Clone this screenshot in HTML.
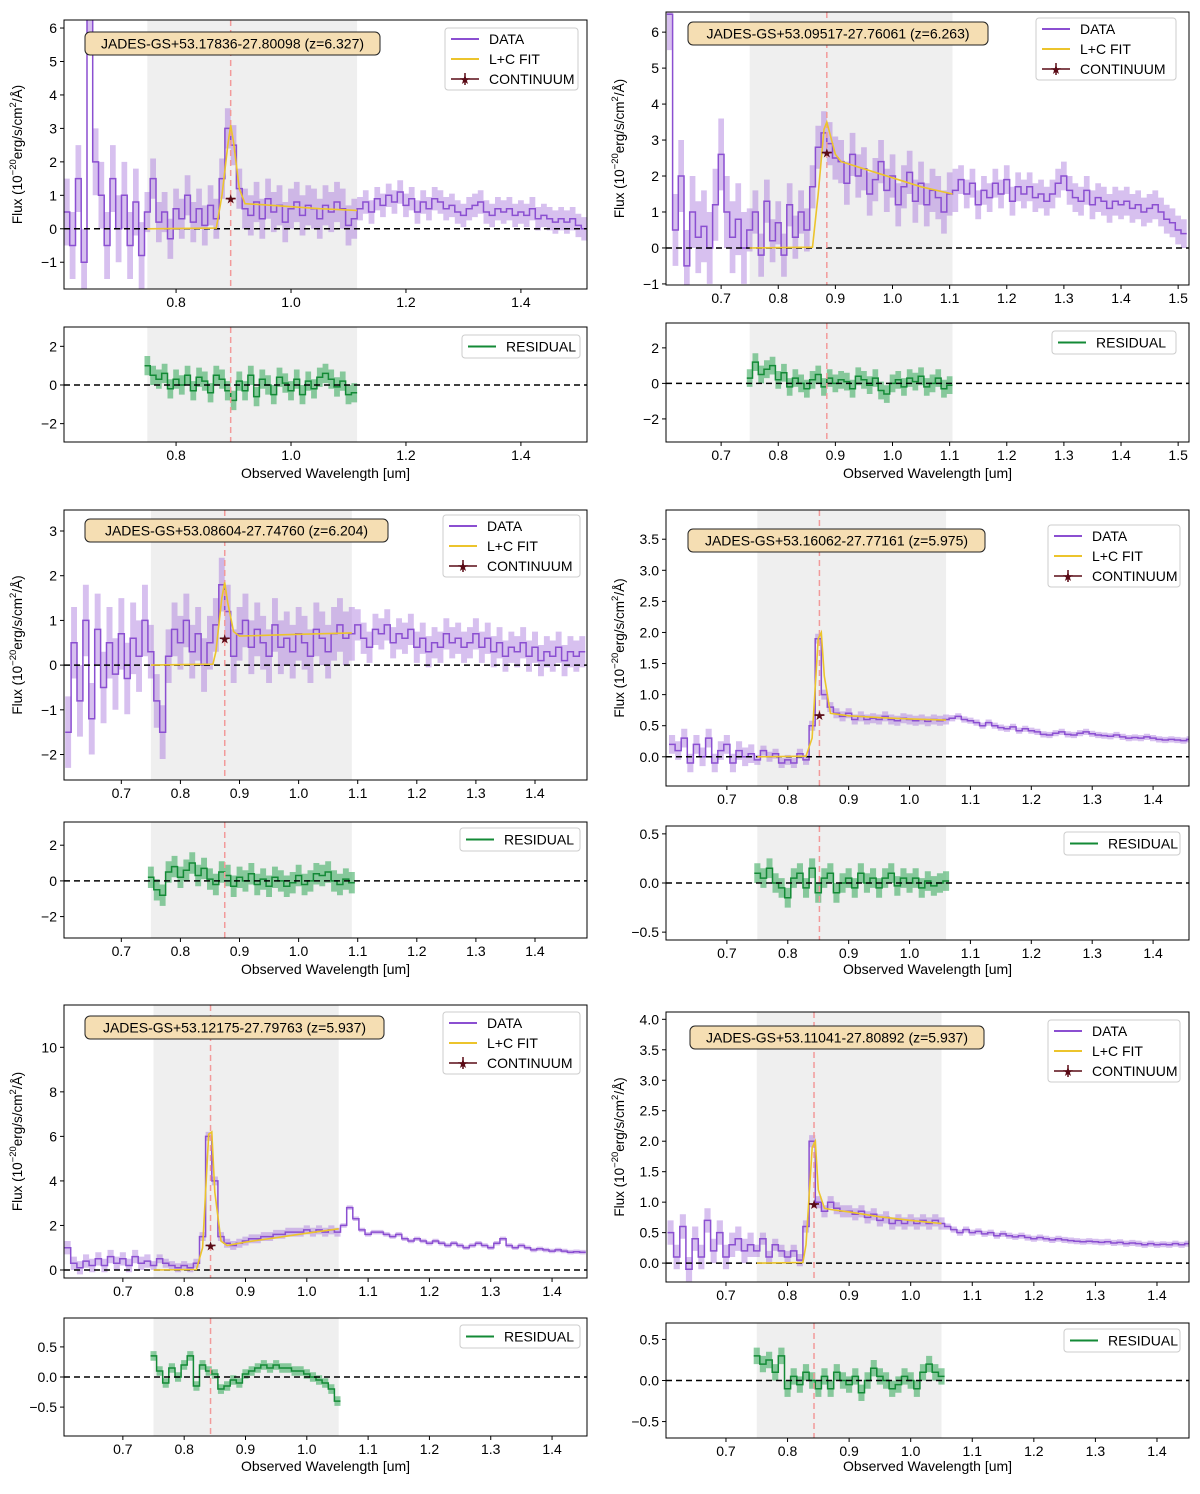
<!DOCTYPE html>
<html><head><meta charset="utf-8"><style>
body{margin:0;background:#fff}
svg text{font-family:"Liberation Sans","DejaVu Sans",sans-serif;fill:#000}
</style></head><body>
<svg id="fig" xmlns="http://www.w3.org/2000/svg" width="1200" height="1489" viewBox="0 0 1200 1489"></svg>
<script>
// ---------- DATA ----------
const p1Flux=[0.5,-0.5,1.5,-1,6.5,2,1,-0.5,1.5,0,1,-0.5,0.8,-0.8,0.5,1.5,0.2,0.5,-0.3,0.6,0.3,1.0,0.2,0.6,0.1,0.7,0.3,1.5,3.0,2.5,1.2,0.6,0.4,0.8,0.3,0.9,0.5,0.7,0.2,0.6,0.8,0.4,0.7,0.6,0.3,0.7,0.5,0.8,0.6,0.1,0.3,0.6,0.8,0.5,0.9,0.7,1.0,0.8,1.1,0.7,0.9,0.5,0.8,0.6,0.9,0.8,0.6,0.7,0.5,0.4,0.6,0.7,0.8,0.5,0.4,0.6,0.5,0.6,0.4,0.5,0.4,0.6,0.3,0.4,0.3,0.2,0.3,0.2,0.3,0.1,0.0];
const p1ErrEdges=[0.75,1.12];const p1ErrVals=[1.0,0.6,0.35];
const p1FitWl=[0.75,0.87,0.88,0.89,0.895,0.90,0.91,0.92,0.95,1.0,1.05,1.115];
const p1FitVal=[0,0.02,1.0,2.5,3.1,2.6,1.2,0.75,0.72,0.66,0.6,0.55];
const p1Cont=[0.895,0.9];
const p1Res=[1.0,0.5,0.3,0.6,-0.2,0.3,0.0,0.5,-0.3,0.4,0.2,-0.4,0.5,0.3,-0.3,-0.8,0.2,-0.3,0.5,-0.6,0.3,0.0,-0.5,0.4,0.1,-0.3,0.3,-0.5,0.2,-0.2,0.4,0.6,0.3,-0.1,0.2,-0.5,-0.4];

const p2Flux=[6.5,0.5,2,-0.5,1.0,0.3,0.6,0.0,1.2,2.6,1.0,0.3,0.8,0.0,0.5,1.0,-0.2,1.3,0.2,0.7,-0.2,1.2,0.3,1.0,0.5,1.7,2.8,3.2,2.9,2.5,2.4,1.8,2.6,2.0,2.2,1.5,1.9,2.4,1.6,2.0,1.2,1.7,2.1,1.3,1.8,1.2,1.6,1.4,1.0,1.5,1.6,1.9,1.5,1.8,1.2,1.6,1.4,1.8,1.5,1.9,1.3,1.7,1.5,1.7,1.4,1.5,1.3,1.5,1.8,2.0,1.6,1.4,1.3,1.6,1.2,1.4,1.3,1.1,1.3,1.2,1.3,1.1,1.2,1.0,1.1,1.2,1.0,0.8,0.7,0.5,0.4];
const p2ErrEdges=[0.75,1.11];const p2ErrVals=[1.0,0.6,0.4];
const p2FitWl=[0.75,0.86,0.87,0.88,0.885,0.89,0.90,0.91,0.95,1.0,1.05,1.105];
const p2FitVal=[0,0.02,1.5,3.3,3.5,3.2,2.6,2.4,2.2,1.95,1.7,1.5];
const p2Cont=[0.885,2.65];
const p2Res=[0.3,1.2,0.5,0.8,1.0,0.2,0.6,-0.2,0.3,0.0,-0.3,0.2,0.5,-0.2,0.3,0.0,0.2,0.1,-0.3,0.4,0.2,-0.1,0.3,-0.4,-0.6,0.0,0.2,-0.2,0.3,0.1,0.4,-0.2,0.0,0.3,-0.3,-0.1];

const p3Flux=[-1.5,0.5,-0.8,1.0,-1.2,0.8,-0.5,0.5,-0.2,0.7,-0.3,0.6,0.2,1.0,0.3,-0.8,-1.5,0.2,0.8,0.5,1.0,0.3,0.7,0.0,0.5,0.9,1.8,1.2,0.2,0.7,1.0,0.4,0.8,0.5,0.2,0.9,0.4,0.6,0.3,0.7,0.5,0.2,0.8,0.6,0.3,0.7,0.9,0.6,0.7,0.9,0.6,0.4,0.8,0.7,0.9,0.5,0.7,0.6,0.8,0.4,0.6,0.3,0.5,0.4,0.7,0.5,0.6,0.4,0.5,0.7,0.4,0.6,0.3,0.5,0.2,0.4,0.3,0.5,0.2,0.4,0.1,0.3,0.2,0.4,0.1,0.3,0.2,0.3];
const p3ErrEdges=[0.75,1.10];const p3ErrVals=[0.8,0.6,0.35];
const p3FitWl=[0.75,0.855,0.86,0.87,0.875,0.88,0.89,0.90,0.95,1.0,1.09];
const p3FitVal=[0,0.02,0.3,1.5,1.85,1.4,0.75,0.65,0.67,0.69,0.72];
const p3Cont=[0.875,0.6];
const p3Res=[0.2,-0.5,-0.8,0.5,0.8,0.2,0.6,1.0,0.3,0.7,0.1,-0.2,0.5,0.3,-0.3,0.2,0.0,0.4,-0.2,0.1,-0.3,0.2,0.0,-0.3,-0.1,0.3,-0.2,0.0,0.4,0.3,0.5,0.0,-0.2,0.1,-0.1];

const p4Flux=[0.2,0.1,0.3,-0.1,0.2,0.0,0.3,-0.1,0.1,0.2,-0.1,0.1,0.0,0.05,-0.05,0.1,0.0,0.05,-0.1,-0.05,-0.1,0.05,-0.05,0.5,1.9,1.0,0.8,0.7,0.65,0.7,0.6,0.65,0.6,0.62,0.6,0.65,0.6,0.58,0.62,0.6,0.58,0.6,0.57,0.6,0.58,0.6,0.62,0.65,0.6,0.58,0.55,0.5,0.55,0.5,0.47,0.45,0.48,0.42,0.45,0.42,0.4,0.36,0.35,0.38,0.4,0.36,0.35,0.38,0.4,0.37,0.35,0.34,0.33,0.35,0.32,0.3,0.31,0.3,0.32,0.3,0.28,0.27,0.28,0.27,0.26,0.28];
const p4ErrEdges=[0.75,1.07];const p4ErrVals=[0.15,0.08,0.05];
const p4FitWl=[0.75,0.83,0.84,0.85,0.855,0.86,0.87,0.90,0.95,1.0,1.06];
const p4FitVal=[0,0.01,0.3,1.9,2.0,1.3,0.7,0.66,0.63,0.61,0.59];
const p4Cont=[0.852,0.67];
const p4Res=[0.1,0.05,0.15,0.0,-0.05,-0.15,0.05,0.1,-0.05,0.15,-0.1,0.05,0.1,-0.1,0.0,0.05,-0.05,0.1,0.0,0.05,-0.05,0.05,0.1,-0.03,0.05,0.0,0.05,-0.05,0.02,-0.03,0.0,0.02];

const p5Flux=[1.0,0.3,0.1,0.4,0.2,0.5,0.2,0.6,0.3,0.5,0.2,0.6,0.3,0.4,0.2,0.5,0.3,0.2,0.1,0.2,0.1,0.3,1.5,6.0,4.0,1.5,1.2,1.1,1.2,1.3,1.4,1.4,1.5,1.5,1.6,1.6,1.7,1.7,1.7,1.8,1.7,1.8,1.7,1.8,1.7,2.0,2.8,2.3,1.8,1.6,1.7,1.7,1.6,1.5,1.6,1.4,1.3,1.4,1.3,1.2,1.3,1.2,1.1,1.2,1.1,1.0,1.1,1.2,1.1,1.0,1.2,1.4,1.1,1.0,1.1,1.0,0.9,0.95,0.9,0.85,0.9,0.85,0.8,0.82,0.8];
const p5ErrEdges=[0.75,1.06];const p5ErrVals=[0.3,0.2,0.1];
const p5FitWl=[0.75,0.82,0.83,0.84,0.845,0.85,0.86,0.87,0.90,0.95,1.0,1.052];
const p5FitVal=[0,0.02,1.0,6.1,6.2,3.5,1.3,1.1,1.25,1.45,1.65,1.85];
const p5Cont=[0.843,1.1];
const p5Res=[0.35,0.1,-0.1,0.15,0.0,0.2,0.35,-0.15,0.2,0.1,0.05,-0.2,-0.15,-0.05,-0.1,0.05,0.1,0.15,0.2,0.15,0.2,0.15,0.15,0.1,0.1,0.05,0.0,-0.05,-0.1,-0.2,-0.4];

const p6Flux=[0.5,0.1,0.6,-0.1,0.4,0.1,0.7,0.2,0.5,0.1,0.3,0.4,0.2,0.3,0.2,0.4,0.1,0.3,0.2,0.1,0.2,0.05,0.6,2.0,1.0,0.85,1.0,0.9,0.85,0.85,0.8,0.85,0.75,0.8,0.7,0.75,0.65,0.7,0.65,0.7,0.65,0.7,0.65,0.7,0.65,0.6,0.55,0.5,0.55,0.5,0.52,0.48,0.5,0.45,0.48,0.45,0.43,0.45,0.42,0.4,0.42,0.4,0.38,0.4,0.38,0.37,0.36,0.35,0.36,0.35,0.34,0.35,0.33,0.34,0.32,0.33,0.32,0.3,0.32,0.3,0.31,0.3,0.32,0.3,0.32];
const p6ErrEdges=[0.75,1.06];const p6ErrVals=[0.2,0.1,0.05];
const p6FitWl=[0.75,0.825,0.83,0.84,0.845,0.85,0.86,0.87,0.90,0.95,1.0,1.05];
const p6FitVal=[0,0.01,0.3,1.9,2.0,1.2,0.9,0.88,0.84,0.76,0.7,0.65];
const p6Cont=[0.843,0.97];
const p6Res=[0.3,0.2,0.25,0.1,0.3,-0.1,0.05,-0.05,0.1,0.0,-0.1,0.05,-0.1,0.1,0.0,-0.05,0.05,-0.15,0.0,0.15,0.05,0.0,-0.1,-0.05,0.05,0.0,-0.1,0.1,0.2,0.1,0.05];

const names=["JADES-GS+53.17836-27.80098 (z=6.327)","JADES-GS+53.09517-27.76061 (z=6.263)","JADES-GS+53.08604-27.74760 (z=6.204)","JADES-GS+53.16062-27.77161 (z=5.975)","JADES-GS+53.12175-27.79763 (z=5.937)","JADES-GS+53.11041-27.80892 (z=5.937)"];
const lineWl=[0.895,0.885,0.875,0.852,0.843,0.843];
const shadeLo=[0.75,0.75,0.75,0.75,0.75,0.75];
const shadeHi=[1.115,1.105,1.09,1.06,1.052,1.05];
const xTicks1=[0.8,1.0,1.2,1.4];
const xTicks2=[0.7,0.8,0.9,1.0,1.1,1.2,1.3,1.4,1.5];
const xTicks3=[0.7,0.8,0.9,1.0,1.1,1.2,1.3,1.4];
const yTicks1=[-1,0,1,2,3,4,5,6];
const yTicks3=[-2,-1,0,1,2,3];
const yTicks4=[0,0.5,1,1.5,2,2.5,3,3.5];
const yTicks5=[0,2,4,6,8,10];
const yTicks6=[0,0.5,1,1.5,2,2.5,3,3.5,4];
const resTicksA=[-2,0,2];
const resTicksB=[-0.5,0,0.5];

// ---------- LAYOUT ----------
const panels=[
 {flux:p1Flux,ee:p1ErrEdges,ev:p1ErrVals,fw:p1FitWl,fv:p1FitVal,cont:p1Cont,res:p1Res,resErr:0.5,
  m:[64,20,587,289],r:[64,327,587,442],xr:[0.605,1.515],yr:[-1.8,6.24],rr:[-2.95,3.0],xt:xTicks1,yt:yTicks1,rt:resTicksA,dec:1,rdec:0,ydec:0,
  title:[85,32,295],leg:[445,28,133],rleg:[462,335,118],xl:478},
 {flux:p2Flux,ee:p2ErrEdges,ev:p2ErrVals,fw:p2FitWl,fv:p2FitVal,cont:p2Cont,res:p2Res,resErr:0.5,
  m:[666,12,1189,285],r:[666,323,1189,442],xr:[0.6035,1.519],yr:[-1.03,6.56],rr:[-3.3,3.4],xt:xTicks2,yt:yTicks1,rt:resTicksA,dec:1,rdec:0,ydec:0,
  title:[688,22,300],leg:[1036,18,140],rleg:[1052,331,124],xl:478},
 {flux:p3Flux,ee:p3ErrEdges,ev:p3ErrVals,fw:p3FitWl,fv:p3FitVal,cont:p3Cont,res:p3Res,resErr:0.6,
  m:[64,510,587,780],r:[64,822,587,938],xr:[0.603,1.488],yr:[-2.57,3.47],rr:[-3.2,3.3],xt:xTicks3,yt:yTicks3,rt:resTicksA,dec:1,rdec:0,ydec:0,
  title:[85,519,303],leg:[443,515,137],rleg:[460,828,120],xl:974},
 {flux:p4Flux,ee:p4ErrEdges,ev:p4ErrVals,fw:p4FitWl,fv:p4FitVal,cont:p4Cont,res:p4Res,resErr:0.1,
  m:[666,510,1189,786],r:[666,826,1189,940],xr:[0.6,1.459],yr:[-0.47,3.97],rr:[-0.58,0.58],xt:xTicks3,yt:yTicks4,rt:resTicksB,dec:1,rdec:1,ydec:1,
  title:[688,529,297],leg:[1048,525,132],rleg:[1064,832,116],xl:974},
 {flux:p5Flux,ee:p5ErrEdges,ev:p5ErrVals,fw:p5FitWl,fv:p5FitVal,cont:p5Cont,res:p5Res,resErr:0.08,
  m:[64,1005,587,1278],r:[64,1318,587,1436],xr:[0.604,1.457],yr:[-0.36,11.9],rr:[-0.98,0.98],xt:xTicks3,yt:yTicks5,rt:resTicksB,dec:1,rdec:1,ydec:0,
  title:[85,1016,299],leg:[443,1012,137],rleg:[460,1325,120],xl:1471},
 {flux:p6Flux,ee:p6ErrEdges,ev:p6ErrVals,fw:p6FitWl,fv:p6FitVal,cont:p6Cont,res:p6Res,resErr:0.1,
  m:[666,1012,1189,1282],r:[666,1323,1189,1438],xr:[0.6026,1.452],yr:[-0.31,4.12],rr:[-0.7,0.7],xt:xTicks3,yt:yTicks6,rt:resTicksB,dec:1,rdec:1,ydec:1,
  title:[690,1026,294],leg:[1048,1020,132],rleg:[1064,1329,116],xl:1471}
];
const wlStart=0.61, wlStep=0.01;
const PURPLE="#8b4fd1", PBAND="#a674dc", GOLD="#ecc42c", GREEN="#138a36", GBAND="#3fae63";
const NS="http://www.w3.org/2000/svg";
const svg=document.getElementById('fig');
function el(tag,attrs,parent){const e=document.createElementNS(NS,tag);for(const k in attrs)e.setAttribute(k,attrs[k]);(parent||svg).appendChild(e);return e;}
function fmt(v,d){const s=v.toFixed(d);return s.replace('-','\u2212');}
function errAt(p,w){let i=0;while(i<p.ee.length&&w>=p.ee[i])i++;return p.ev[i];}

panels.forEach((p,pi)=>{
 const g=el('g',{});
 
 
 const [L,T,R,B]=p.m;
 const X=w=>L+(w-p.xr[0])/(p.xr[1]-p.xr[0])*(R-L);
 const Y=v=>B-(v-p.yr[0])/(p.yr[1]-p.yr[0])*(B-T);
 const [rL,rT,rR,rB]=p.r;
 const RY=v=>rB-(v-p.rr[0])/(p.rr[1]-p.rr[0])*(rB-rT);
 const cid='c'+pi, rcid='rc'+pi;
 const cp=el('clipPath',{id:cid},g);el('rect',{x:L,y:T,width:R-L,height:B-T},cp);
 const rcp=el('clipPath',{id:rcid},g);el('rect',{x:rL,y:rT,width:rR-rL,height:rB-rT},rcp);
 const mg=el('g',{'clip-path':'url(#'+cid+')'},g);
 const sh=el('rect',{x:X(shadeLo[pi]),y:T,width:X(shadeHi[pi])-X(shadeLo[pi]),height:B-T,fill:'#efefef'},mg);
 
 let up='',lo='';
 const n=p.flux.length;
 for(let i=0;i<n;i++){const w=wlStart+i*wlStep,e=errAt(p,w),x0=X(w-wlStep/2),x1=X(w+wlStep/2);
  up+=(i?'L':'M')+x0.toFixed(1)+','+Y(p.flux[i]+e).toFixed(1)+'L'+x1.toFixed(1)+','+Y(p.flux[i]+e).toFixed(1);}
 for(let i=n-1;i>=0;i--){const w=wlStart+i*wlStep,e=errAt(p,w),x0=X(w-wlStep/2),x1=X(w+wlStep/2);
  lo+='L'+x1.toFixed(1)+','+Y(p.flux[i]-e).toFixed(1)+'L'+x0.toFixed(1)+','+Y(p.flux[i]-e).toFixed(1);}
 const band=el('path',{d:up+lo+'Z',fill:PBAND,'fill-opacity':0.45},mg);
 
 let d='';
 for(let i=0;i<n;i++){const w=wlStart+i*wlStep;d+=(i?'L':'M')+X(w-wlStep/2).toFixed(1)+','+Y(p.flux[i]).toFixed(1)+'L'+X(w+wlStep/2).toFixed(1)+','+Y(p.flux[i]).toFixed(1);}
 const dl=el('path',{d:d,fill:'none',stroke:PURPLE,'stroke-width':1.5},mg);
 
 const z=el('line',{x1:L,x2:R,y1:Y(0),y2:Y(0),stroke:'#000','stroke-width':1.5,'stroke-dasharray':'6,4'},mg);
 
 const rl=el('line',{x1:X(lineWl[pi]),x2:X(lineWl[pi]),y1:T,y2:B,stroke:'#f29a9a','stroke-width':1.5,'stroke-dasharray':'6,4'},mg);
 
 let fd='';p.fw.forEach((w,i)=>{fd+=(i?'L':'M')+X(w).toFixed(1)+','+Y(p.fv[i]).toFixed(1);});
 const fl=el('path',{d:fd,fill:'none',stroke:GOLD,'stroke-width':1.6},mg);
 
 const cx=X(p.cont[0]),cy=Y(p.cont[1]);
 el('line',{x1:cx-5,x2:cx+5,y1:cy,y2:cy,stroke:'#5a0b16','stroke-width':1.5},mg);
 const st=el('text',{x:cx,y:cy+5,'text-anchor':'middle','font-size':13,style:'fill:#5a0b16'},mg);st.textContent='★';
 
 const fr=el('rect',{x:L,y:T,width:R-L,height:B-T,fill:'none',stroke:'#000','stroke-width':1},g);
 
 p.xt.forEach(v=>{const x=X(v);el('line',{x1:x,x2:x,y1:B,y2:B+4,stroke:'#000'},g);
  const t=el('text',{x:x,y:B+18,'text-anchor':'middle','font-size':14},g);t.textContent=v.toFixed(1);
  });
 p.yt.forEach(v=>{const y=Y(v);el('line',{x1:L-4,x2:L,y1:y,y2:y,stroke:'#000'},g);
  const t=el('text',{x:L-7,y:y+5,'text-anchor':'end','font-size':14},g);t.textContent=fmt(v,p.ydec);
  });
 const yl=el('text',{x:0,y:0,'text-anchor':'middle','font-size':13.5,transform:'translate('+(L-42)+','+((T+B)/2)+') rotate(-90)'},g);
 yl.innerHTML='Flux (10<tspan dy="-6" font-size="9.5">−20</tspan><tspan dy="6">erg/s/cm</tspan><tspan dy="-6" font-size="9.5">2</tspan><tspan dy="6">/Å)</tspan>';
 
 const [tx,ty,tw]=p.title;
 const tb=el('rect',{x:tx,y:ty,width:tw,height:23,rx:5,fill:'#f5deb3',stroke:'#222','stroke-width':1},g);
 
 const tt=el('text',{x:tx+tw/2,y:ty+16.5,'text-anchor':'middle','font-size':14},g);tt.textContent=names[pi];
 
 const [lx,ly,lw]=p.leg;
 const lg=el('g',{},g);
 el('rect',{x:lx,y:ly,width:lw,height:62,rx:3,fill:'#fff','fill-opacity':0.85,stroke:'#ccc'},lg);
 const items=[['DATA',PURPLE],['L+C FIT',GOLD],['CONTINUUM','#5a0b16']];
 items.forEach((it,i)=>{const yy=ly+11+i*20;
  el('line',{x1:lx+6,x2:lx+34,y1:yy,y2:yy,stroke:it[1],'stroke-width':i==2?1.5:2},lg);
  if(i==2){const s=el('text',{x:lx+20,y:yy+5,'text-anchor':'middle','font-size':13,style:'fill:#5a0b16'},lg);s.textContent='★';
   el('line',{x1:lx+20,x2:lx+20,y1:yy-6,y2:yy+6,stroke:'#5a0b16','stroke-width':1.5},lg);}
  const t=el('text',{x:lx+44,y:yy+5,'font-size':14},lg);t.textContent=it[0];
  });
 const rg=el('g',{'clip-path':'url(#'+rcid+')'},g);
 el('rect',{x:X(shadeLo[pi]),y:rT,width:X(shadeHi[pi])-X(shadeLo[pi]),height:rB-rT,fill:'#efefef'},rg);
 const rn=p.res.length;let ru='',rlo='',rd='';
 for(let i=0;i<rn;i++){const w=0.75+i*wlStep,x0=X(w-wlStep/2),x1=X(w+wlStep/2);
  ru+=(i?'L':'M')+x0.toFixed(1)+','+RY(p.res[i]+p.resErr).toFixed(1)+'L'+x1.toFixed(1)+','+RY(p.res[i]+p.resErr).toFixed(1);
  rd+=(i?'L':'M')+x0.toFixed(1)+','+RY(p.res[i]).toFixed(1)+'L'+x1.toFixed(1)+','+RY(p.res[i]).toFixed(1);}
 for(let i=rn-1;i>=0;i--){const w=0.75+i*wlStep,x0=X(w-wlStep/2),x1=X(w+wlStep/2);
  rlo+='L'+x1.toFixed(1)+','+RY(p.res[i]-p.resErr).toFixed(1)+'L'+x0.toFixed(1)+','+RY(p.res[i]-p.resErr).toFixed(1);}
 const rb=el('path',{d:ru+rlo+'Z',fill:GBAND,'fill-opacity':0.6},rg);
 
 const rs=el('path',{d:rd,fill:'none',stroke:GREEN,'stroke-width':1.5},rg);
 
 el('line',{x1:rL,x2:rR,y1:RY(0),y2:RY(0),stroke:'#000','stroke-width':1.5,'stroke-dasharray':'6,4'},rg);
 el('line',{x1:X(lineWl[pi]),x2:X(lineWl[pi]),y1:rT,y2:rB,stroke:'#f29a9a','stroke-width':1.5,'stroke-dasharray':'6,4'},rg);
 const rf=el('rect',{x:rL,y:rT,width:rR-rL,height:rB-rT,fill:'none',stroke:'#000'},g);
 
 p.xt.forEach(v=>{const x=X(v);el('line',{x1:x,x2:x,y1:rB,y2:rB+4,stroke:'#000'},g);
  const t=el('text',{x:x,y:rB+18,'text-anchor':'middle','font-size':14},g);t.textContent=v.toFixed(1);
  });
 p.rt.forEach(v=>{const y=RY(v);el('line',{x1:rL-4,x2:rL,y1:y,y2:y,stroke:'#000'},g);
  const t=el('text',{x:rL-7,y:y+5,'text-anchor':'end','font-size':14},g);t.textContent=fmt(v,p.rdec);
  });
 const [qx,qy,qw]=p.rleg;
 const rlg=el('g',{},g);
 el('rect',{x:qx,y:qy,width:qw,height:23,rx:3,fill:'#fff',stroke:'#ccc'},rlg);
 el('line',{x1:qx+6,x2:qx+34,y1:qy+11.5,y2:qy+11.5,stroke:GREEN,'stroke-width':2},rlg);
 const rt=el('text',{x:qx+44,y:qy+16.5,'font-size':14},rlg);rt.textContent='RESIDUAL';
 const xl=el('text',{x:(rL+rR)/2,y:p.xl,'text-anchor':'middle','font-size':14},g);xl.textContent='Observed Wavelength [um]';
 
});
</script>
</body></html>
